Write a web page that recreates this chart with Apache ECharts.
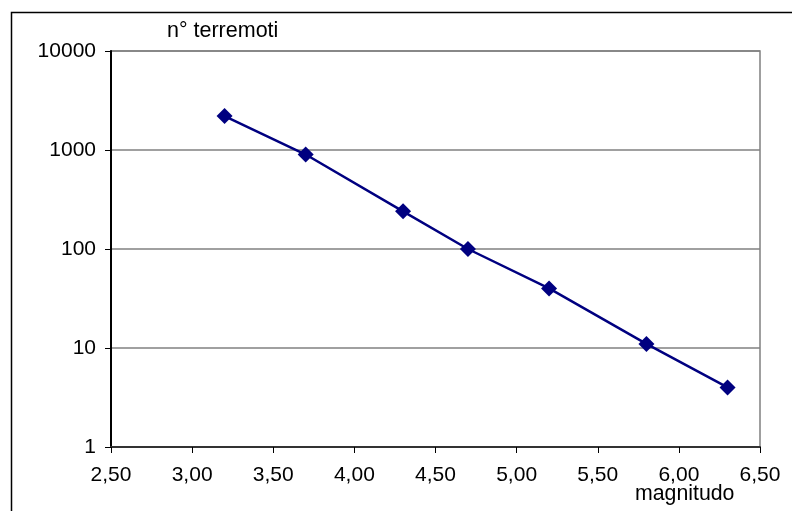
<!DOCTYPE html>
<html><head><meta charset="utf-8">
<script src="https://cdn.jsdelivr.net/npm/echarts@6/dist/echarts.min.js"></script>
<style>html,body{margin:0;padding:0;background:#fff}#c{width:792px;height:511px}</style>
</head><body><div id="c"></div>
<script>
const magnitudo = [3.2, 3.7, 4.3, 4.7, 5.2, 5.8, 6.3];
const terremoti = [2200, 900, 240, 100, 40, 11, 4];
const yTitle = 'n° terremoti';
const xTitle = 'magnitudo';

const chart = echarts.init(document.getElementById('c'), null, {renderer: 'canvas'});
const font = 'Liberation Sans, Arial, sans-serif';
chart.setOption({
  animation: false,
  backgroundColor: '#fff',
  graphic: [{
    type: 'rect', shape: {x: 11.5, y: 12.5, width: 900, height: 600},
    style: {fill: 'none', stroke: '#000', lineWidth: 1.5}, z: 100
  }],
  title: [
    {text: yTitle, left: 167, top: 20, padding: 0, textStyle: {fontFamily: font, fontSize: 21.5, fontWeight: 'normal', color: '#000'}},
    {text: xTitle, left: 635, top: 484, padding: 0, textStyle: {fontFamily: font, fontSize: 21.3, fontWeight: 'normal', color: '#000'}}
  ],
  grid: {left: 111, right: 32, top: 51, bottom: 64, show: true, borderColor: '#808080', borderWidth: 1.5},
  xAxis: {
    type: 'value', min: 2.5, max: 6.5, interval: 0.5,
    axisLine: {show: true, lineStyle: {color: '#333', width: 2}},
    axisTick: {show: true, length: 6, lineStyle: {color: '#000', width: 1}},
    splitLine: {show: false},
    axisLabel: {margin: 18, fontFamily: font, fontSize: 21, color: '#000',
      formatter: v => v.toFixed(2).replace('.', ',')}
  },
  yAxis: {
    type: 'log', logBase: 10, min: 1, max: 10000,
    axisLine: {show: true, lineStyle: {color: '#000', width: 2}},
    axisTick: {show: true, length: 6, lineStyle: {color: '#000', width: 1}},
    splitLine: {show: true, lineStyle: {color: '#808080', width: 1.5}},
    minorTick: {show: false},
    axisLabel: {margin: 15, fontFamily: font, fontSize: 21, color: '#000',
      formatter: v => String(Math.round(v))}
  },
  series: [{
    type: 'line',
    data: magnitudo.map((m, i) => [m, terremoti[i]]),
    symbol: 'diamond', symbolSize: 16,
    lineStyle: {color: '#000080', width: 2.5},
    itemStyle: {color: '#000080'}
  }]
});
</script></body></html>
